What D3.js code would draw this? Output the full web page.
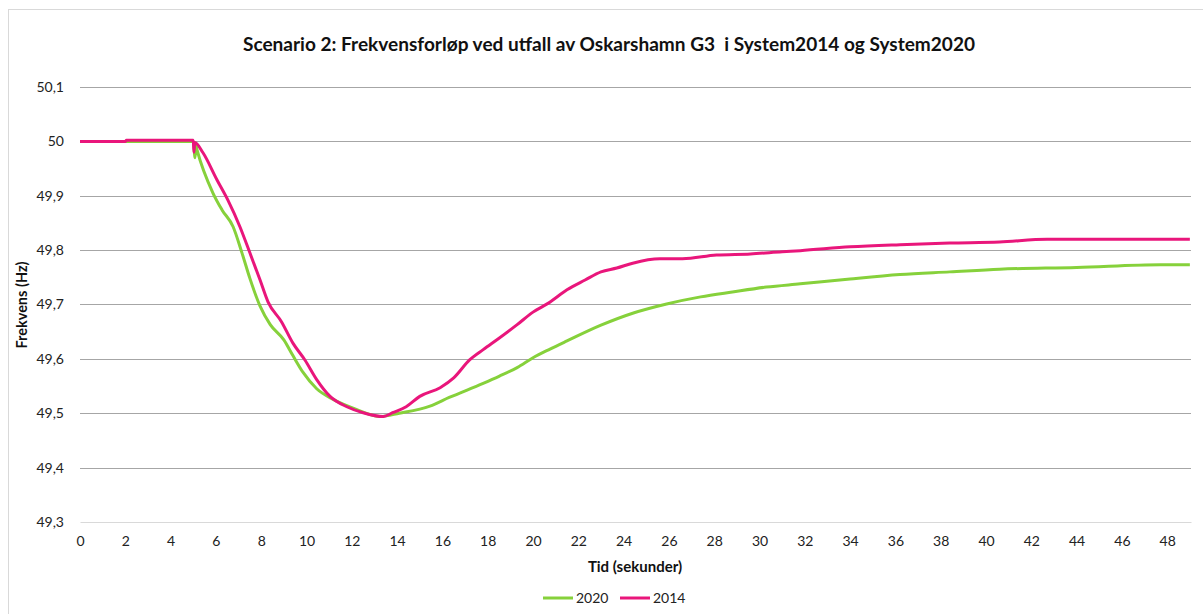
<!DOCTYPE html>
<html>
<head>
<meta charset="utf-8">
<script src="https://cdn.jsdelivr.net/npm/d3@7"></script>
<style>
  body { margin: 0; background: #fff; }
  svg { font-family: Lato, "Liberation Sans", sans-serif; }
</style>
</head>
<body>
<svg width="1203" height="614"></svg>
<script>
// data
var t2014 = [0, 2, 2.05, 5.0, 5.03, 5.07, 5.43, 6.05, 6.53, 7.06, 7.5, 7.95, 8.3, 8.9, 9.4, 9.93, 10.45, 11.04, 11.78, 12.5, 13.4, 13.8, 14.4, 15.0, 15.9, 16.5, 17.2, 17.8, 18.5, 19.3, 20.0, 20.7, 21.5, 22.3, 23.0, 23.7, 24.4, 25.6, 26.6, 28.1, 29.6, 31.0, 31.8, 34, 36.2, 38.4, 40.6, 42.7, 49];
var f2014 = [50, 50, 50.002, 50.002, 49.98, 49.998, 49.979, 49.929, 49.892, 49.843, 49.795, 49.745, 49.705, 49.668, 49.629, 49.598, 49.562, 49.531, 49.512, 49.501, 49.494, 49.501, 49.512, 49.531, 49.547, 49.565, 49.598, 49.617, 49.638, 49.663, 49.686, 49.703, 49.727, 49.745, 49.760, 49.767, 49.776, 49.784, 49.784, 49.791, 49.793, 49.797, 49.799, 49.806, 49.810, 49.813, 49.815, 49.820, 49.820];

var t2020 = [0, 5.0, 5.08, 5.12, 5.17, 5.87, 6.27, 6.76, 7.15, 7.5, 7.95, 8.4, 9.0, 9.4, 9.85, 10.45, 11.2, 12.2, 13.25, 14.1, 15.45, 16.3, 17.8, 18.5, 19.3, 20.0, 20.75, 21.5, 23.0, 24.4, 25.9, 27.4, 28.8, 30.3, 31.8, 34, 36.2, 38.4, 40.6, 44, 47.7, 49];
var f2020 = [50, 50, 49.97, 49.992, 49.984, 49.905, 49.874, 49.843, 49.795, 49.748, 49.697, 49.663, 49.635, 49.606, 49.575, 49.545, 49.525, 49.507, 49.494, 49.500, 49.513, 49.529, 49.555, 49.568, 49.584, 49.602, 49.618, 49.633, 49.662, 49.684, 49.701, 49.714, 49.723, 49.732, 49.738, 49.747, 49.755, 49.760, 49.765, 49.768, 49.773, 49.773];

var yTicks = [49.3, 49.4, 49.5, 49.6, 49.7, 49.8, 49.9, 50, 50.1];
var xTicks = d3.range(0, 49, 2);

var seriesNames = ["2020", "2014"];
var seriesColors = ["#86d13b", "#e9167b"];

var svg = d3.select("svg");

var margin = {left: 80, right: 12, top: 87, bottom: 92},
    width = 1203 - margin.left - margin.right,
    height = 614 - margin.top - margin.bottom;

// outer frame
svg.append("rect")
    .attr("x", 8.5).attr("y", 9.5)
    .attr("width", 1200).attr("height", 620)
    .attr("fill", "none")
    .attr("stroke", "#d9d9d9");

var x = d3.scaleLinear().domain([0, 49.05]).range([0, width]);
var y = d3.scaleLinear().domain([49.3, 50.1]).range([height, 0]);

var g = svg.append("g")
    .attr("transform", "translate(" + margin.left + "," + margin.top + ")");

// gridlines
g.selectAll(".grid")
  .data(yTicks.slice(1))
  .enter().append("line")
    .attr("x1", 0).attr("x2", width)
    .attr("y1", function(d) { return Math.round(y(d)) + 0.5; })
    .attr("y2", function(d) { return Math.round(y(d)) + 0.5; })
    .attr("stroke", "#a6a6a6");

// y axis labels
var yAxis = g.append("g")
    .call(d3.axisLeft(y).tickValues(yTicks).tickSize(0).tickPadding(16)
      .tickFormat(function(d) { return String(+d.toFixed(1)).replace(".", ","); }));
yAxis.select(".domain").remove();
yAxis.selectAll("text").attr("font-size", 14).attr("fill", "#222")
    .attr("font-family", "Lato, sans-serif");

// x axis
var xAxis = g.append("g")
    .attr("transform", "translate(0," + height + ")")
    .call(d3.axisBottom(x).tickValues(xTicks).tickSize(0).tickPadding(14));
xAxis.select(".domain").attr("stroke", "#d9d9d9");
xAxis.selectAll("text").attr("font-size", 14).attr("fill", "#222")
    .attr("font-family", "Lato, sans-serif");

var line = d3.line()
    .x(function(d) { return x(d[0]); })
    .y(function(d) { return y(d[1]); })
    .curve(d3.curveMonotoneX);

var data2020 = t2020.map(function(t, i) { return [t, f2020[i]]; });
var data2014 = t2014.map(function(t, i) { return [t, f2014[i]]; });

g.append("path")
    .datum(data2020)
    .attr("fill", "none")
    .attr("stroke", seriesColors[0])
    .attr("stroke-width", 3)
    .attr("stroke-linejoin", "round")
    .attr("d", line);

g.append("path")
    .datum(data2014)
    .attr("fill", "none")
    .attr("stroke", seriesColors[1])
    .attr("stroke-width", 3)
    .attr("stroke-linejoin", "round")
    .attr("d", line);

// title
svg.append("text")
    .attr("x", 609).attr("y", 51)
    .attr("text-anchor", "middle")
    .attr("font-size", 18)
    .attr("font-weight", "bold")
    .attr("fill", "#111")
    .attr("textLength", 732)
    .attr("lengthAdjust", "spacingAndGlyphs")
    .style("white-space", "pre")
    .text("Scenario 2: Frekvensforløp ved utfall av Oskarshamn G3  i System2014 og System2020");

// axis titles
svg.append("text")
    .attr("x", 635).attr("y", 572)
    .attr("text-anchor", "middle")
    .attr("font-size", 15)
    .attr("font-weight", "bold")
    .attr("fill", "#111")
    .text("Tid (sekunder)");

svg.append("text")
    .attr("transform", "translate(27,305) rotate(-90)")
    .attr("text-anchor", "middle")
    .attr("font-size", 14.5)
    .attr("font-weight", "bold")
    .attr("fill", "#111")
    .text("Frekvens (Hz)");

// legend
var legend = svg.selectAll(".legend")
  .data(seriesNames)
  .enter().append("g")
    .attr("transform", function(d, i) { return "translate(" + (543 + i * 77) + ",598)"; });

legend.append("line")
    .attr("x1", 0).attr("x2", 30)
    .attr("stroke", function(d, i) { return seriesColors[i]; })
    .attr("stroke-width", 3);

legend.append("text")
    .attr("x", 33).attr("dy", "0.35em")
    .attr("font-size", 14)
    .attr("fill", "#222")
    .text(function(d) { return d; });
</script>
</body>
</html>
